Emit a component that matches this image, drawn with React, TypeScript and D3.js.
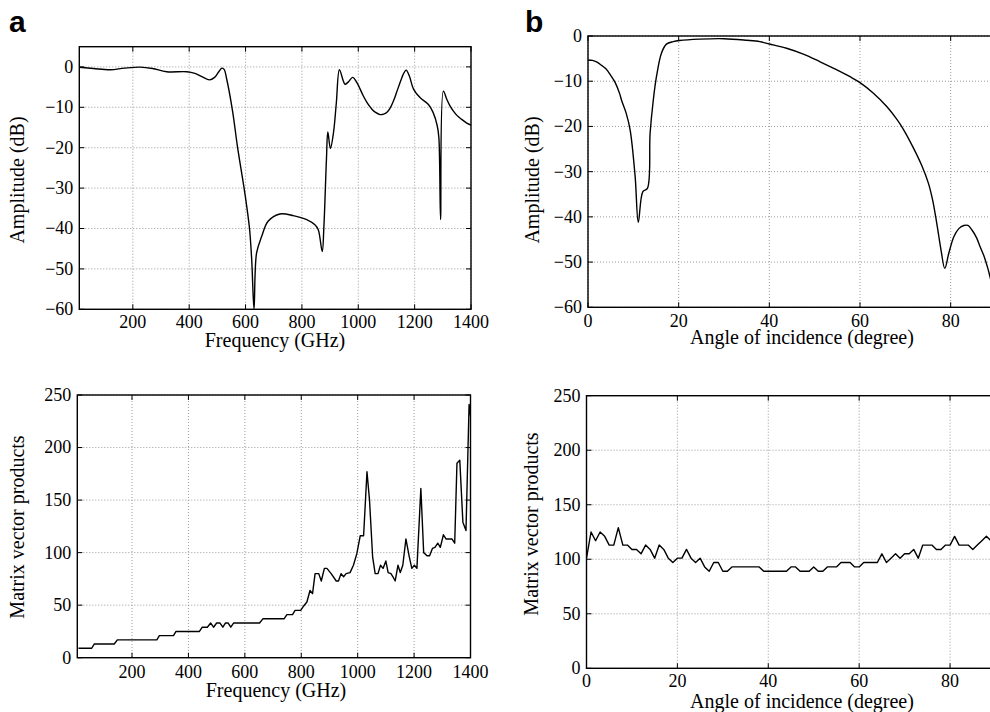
import React from 'react';
import * as d3 from 'd3';

// panel a, top: amplitude vs frequency
const freqAmp = [10, 60, 120, 170, 226, 270, 320, 391, 420, 445, 472, 490, 505, 516, 524, 533, 554, 571, 599, 614, 622, 630, 639, 657, 680, 722, 769, 817, 846, 858, 872, 878, 887, 892, 901, 912, 922, 933, 947, 953, 965, 980, 995, 1018, 1030, 1042, 1050, 1060, 1077, 1090, 1101, 1113, 1125, 1136, 1148, 1155, 1162, 1170, 1181, 1196, 1219, 1249, 1265, 1280, 1286, 1292, 1302, 1314, 1325, 1337, 1350, 1367, 1385, 1400];
const ampFreq = [-0.1, -0.4, -0.7, -0.3, -0.05, -0.4, -1.2, -1.2, -1.6, -2.4, -3.2, -2.6, -1.2, -0.3, -0.6, -3, -11, -19.6, -32, -40, -48, -60, -46.1, -42, -38.2, -36.4, -36.8, -37.8, -39.1, -40.3, -45.7, -39.5, -22.9, -16.1, -20.2, -16.3, -9, -0.7, -3.5, -4.3, -3.7, -2.6, -3.9, -7.2, -8.7, -9.9, -10.6, -11.2, -11.8, -11.7, -11.3, -10.2, -8.4, -6.3, -3.9, -2.6, -1.5, -0.8, -2.2, -5.5, -7.6, -9.3, -11.2, -14.5, -17.5, -37.8, -6, -8, -9.6, -10.9, -12, -13, -13.9, -14.4];

// panel b, top: amplitude vs angle
const angleAmp = [0, 1, 2, 3, 4, 5, 6, 7, 7.4, 8.4, 9.3, 10.4, 11.1, 12.1, 13.1, 13.7, 14.4, 15.1, 16.2, 17.3, 18.8, 20.2, 24.6, 30, 35, 37.9, 40, 43.8, 47.5, 51.2, 54.8, 57.8, 60, 62.9, 65.9, 68.1, 69.6, 71.8, 73.6, 75.1, 76, 76.7, 77.4, 77.9, 78.7, 79.6, 80.7, 81.8, 82.9, 83.8, 84.7, 85.7, 86.5, 87.4, 88.2, 89, 90];
const ampAngle = [-5.3, -5.4, -5.8, -6.5, -7.3, -8.7, -10.3, -12.8, -14.2, -17, -20.8, -31.1, -41.2, -34.4, -33.7, -21.5, -14.2, -9, -3.8, -1.8, -1.25, -1, -0.7, -0.6, -0.95, -1.25, -1.76, -2.7, -4, -5.7, -7.45, -9, -10.3, -12.6, -15.6, -18.4, -20.7, -24.8, -28.6, -32.6, -36.2, -40, -44.4, -47.5, -51.4, -48, -44.4, -42.6, -41.9, -41.9, -42.9, -44.6, -46.6, -48.8, -51.4, -54.5, -58];

// panel a, bottom: matrix vector products vs frequency
const freqMv = [10, 57, 66, 137, 148, 288, 297, 347, 356, 439, 449, 467, 479, 489, 500, 512, 522, 531, 541, 550, 560, 652, 664, 739, 749, 769, 778, 798, 808, 820, 831, 840, 849, 862, 871, 882, 891, 906, 924, 932, 941, 950, 959, 973, 985, 997, 1009, 1021, 1033, 1042, 1053, 1062, 1072, 1081, 1090, 1100, 1108, 1118, 1125, 1133, 1143, 1151, 1160, 1171, 1183, 1192, 1201, 1210, 1224, 1234, 1246, 1255, 1265, 1274, 1284, 1293, 1304, 1313, 1334, 1344, 1352, 1362, 1373, 1384, 1395, 1404];
const mvFreq = [9, 9, 13, 13, 17, 17, 21, 21, 25, 25, 29, 29, 33, 29, 33, 33, 29, 33, 33, 29, 33, 33, 37, 37, 41, 41, 45, 45, 49, 53, 64, 61, 80, 80, 73, 85, 85, 80, 73, 73, 80, 77, 80, 81, 88, 99, 116, 116, 177, 150, 96, 80, 80, 88, 85, 92, 81, 80, 77, 73, 88, 81, 88, 113, 96, 85, 88, 85, 161, 100, 97, 97, 104, 105, 109, 105, 117, 113, 113, 109, 185, 188, 129, 121, 241, 222];

// panel b, bottom: matrix vector products vs angle
const angleMv = [0, 1, 2, 3, 4, 5, 6, 7, 8, 9, 10, 11, 12, 13, 14, 15, 16, 17, 18, 19, 20, 21, 22, 23, 24, 25, 26, 27, 28, 29, 30, 31, 32, 33, 34, 35, 36, 37, 38, 39, 40, 41, 42, 43, 44, 45, 46, 47, 48, 49, 50, 51, 52, 53, 54, 55, 56, 57, 58, 59, 60, 61, 62, 63, 64, 65, 66, 67, 68, 69, 70, 71, 72, 73, 74, 75, 76, 77, 78, 79, 80, 81, 82, 83, 84, 85, 86, 87, 88, 89, 90];
const mvAngle = [101, 125, 117, 125, 121, 113, 113, 129, 113, 113, 109, 109, 105, 113, 109, 101, 113, 109, 101, 97, 101, 101, 109, 101, 97, 101, 93, 89, 97, 97, 89, 89, 93, 93, 93, 93, 93, 93, 93, 89, 89, 89, 89, 89, 89, 93, 93, 89, 89, 89, 93, 89, 89, 93, 93, 93, 97, 97, 97, 93, 93, 97, 97, 97, 97, 105, 97, 101, 105, 101, 105, 105, 109, 101, 113, 113, 113, 109, 109, 113, 113, 121, 113, 113, 113, 109, 113, 117, 121, 117, 113];

const freqTicks = [200, 400, 600, 800, 1000, 1200, 1400];
const angleTicks = [0, 20, 40, 60, 80];
const dbTicks = [-60, -50, -40, -30, -20, -10, 0];
const mvTicks = [0, 50, 100, 150, 200, 250];

const serif = '"Liberation Serif", "Times New Roman", serif';
const fmt = (v: number) => (v < 0 ? '\u2212' + Math.abs(v) : String(v));

type PanelProps = {
  id: string;
  xs: number[];
  ys: number[];
  xDomain: [number, number];
  yDomain: [number, number];
  box: { l: number; r: number; t: number; b: number };
  xTicks: number[];
  yTicks: number[];
  xLabel: string;
  yLabel: string;
  xLabelPos: [number, number];
  yLabelPos: [number, number];
  tickDy: number;
  smooth?: boolean;
};

function Panel(p: PanelProps) {
  const { box } = p;
  const x = d3.scaleLinear().domain(p.xDomain).range([box.l, box.r]);
  const y = d3.scaleLinear().domain(p.yDomain).range([box.b, box.t]);
  const pts = p.xs.map((v, i) => [v, p.ys[i]] as [number, number]);
  const line = d3.line<[number, number]>()
    .x(d => x(d[0]))
    .y(d => y(d[1]))
    .curve(p.smooth ? d3.curveCatmullRom.alpha(0.5) : d3.curveLinear);
  const tl = 5;
  return (
    <g>
      <defs>
        <clipPath id={'clip-' + p.id}>
          <rect x={box.l} y={box.t} width={box.r - box.l} height={box.b - box.t} />
        </clipPath>
      </defs>
      {/* dotted grid */}
      <g stroke="#909090" strokeWidth={0.9} strokeDasharray="1 2">
        {p.xTicks.map(t => (
          <line key={'gx' + t} x1={x(t)} x2={x(t)} y1={box.t} y2={box.b} />
        ))}
        {p.yTicks.map(t => (
          <line key={'gy' + t} x1={box.l} x2={box.r} y1={y(t)} y2={y(t)} />
        ))}
      </g>
      <path d={line(pts) || ''} fill="none" stroke="#000" strokeWidth={1.4} strokeLinejoin="round" clipPath={`url(#clip-${p.id})`} />
      {/* ticks, inward on all sides */}
      <g stroke="#000" strokeWidth={1}>
        {p.xTicks.map(t => (
          <g key={'tx' + t}>
            <line x1={x(t)} x2={x(t)} y1={box.b} y2={box.b - tl} />
            <line x1={x(t)} x2={x(t)} y1={box.t} y2={box.t + tl} />
          </g>
        ))}
        {p.yTicks.map(t => (
          <g key={'ty' + t}>
            <line x1={box.l} x2={box.l + tl} y1={y(t)} y2={y(t)} />
            <line x1={box.r} x2={box.r - tl} y1={y(t)} y2={y(t)} />
          </g>
        ))}
      </g>
      <rect x={box.l} y={box.t} width={box.r - box.l} height={box.b - box.t} fill="none" stroke="#000" strokeWidth={1.4} />
      <g fontFamily={serif} fontSize={18} fill="#000">
        {p.xTicks.map(t => (
          <text key={'lx' + t} x={x(t)} y={box.b + p.tickDy} textAnchor="middle">{fmt(t)}</text>
        ))}
        {p.yTicks.map(t => (
          <text key={'ly' + t} x={box.l - 6} y={y(t)} dy="0.33em" textAnchor="end">{fmt(t)}</text>
        ))}
      </g>
      <text x={p.xLabelPos[0]} y={p.xLabelPos[1]} textAnchor="middle" fontFamily={serif} fontSize={20}>{p.xLabel}</text>
      <text transform={`translate(${p.yLabelPos[0]},${p.yLabelPos[1]}) rotate(-90)`} textAnchor="middle" fontFamily={serif} fontSize={20}>{p.yLabel}</text>
    </g>
  );
}

export default function App() {
  return (
    <svg width={990} height={712} style={{ position: 'absolute', left: 0, top: 0, background: '#fff' }}>
      <rect width={990} height={712} fill="#fff" />
      <text x={9} y={32} fontFamily='"Liberation Sans", Arial, sans-serif' fontWeight="bold" fontSize={30}>a</text>
      <text x={525} y={32} fontFamily='"Liberation Sans", Arial, sans-serif' fontWeight="bold" fontSize={30}>b</text>
      <Panel id="a1" xs={freqAmp} ys={ampFreq} xDomain={[10, 1400]} yDomain={[-60, 5]} smooth
        box={{ l: 79.3, r: 471, t: 46.7, b: 309.3 }} xTicks={freqTicks} yTicks={dbTicks}
        xLabel="Frequency (GHz)" yLabel="Amplitude (dB)" xLabelPos={[275, 347]} yLabelPos={[24, 180]} tickDy={19} />
      <Panel id="b1" xs={angleAmp} ys={ampAngle} xDomain={[0, 90]} yDomain={[-60, 0]} smooth
        box={{ l: 588, r: 996, t: 36, b: 307.3 }} xTicks={angleTicks} yTicks={dbTicks}
        xLabel="Angle of incidence (degree)" yLabel="Amplitude (dB)" xLabelPos={[802, 344]} yLabelPos={[539, 180]} tickDy={20} />
      <Panel id="a2" xs={freqMv} ys={mvFreq} xDomain={[6, 1400]} yDomain={[0, 250]}
        box={{ l: 77.3, r: 470.5, t: 395, b: 657.7 }} xTicks={freqTicks} yTicks={mvTicks}
        xLabel="Frequency (GHz)" yLabel="Matrix vector products" xLabelPos={[276, 697]} yLabelPos={[24, 527]} tickDy={20} />
      <Panel id="b2" xs={angleMv} ys={mvAngle} xDomain={[0, 90]} yDomain={[0, 250]}
        box={{ l: 586.5, r: 995.5, t: 395.7, b: 668.3 }} xTicks={angleTicks} yTicks={mvTicks}
        xLabel="Angle of incidence (degree)" yLabel="Matrix vector products" xLabelPos={[802, 708]} yLabelPos={[538, 524]} tickDy={19} />
    </svg>
  );
}
